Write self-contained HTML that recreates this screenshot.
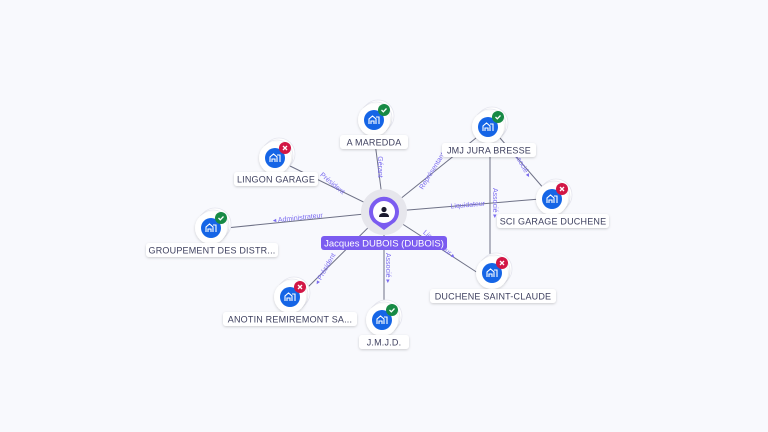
<!DOCTYPE html>
<html><head><meta charset="utf-8"><style>
html,body{margin:0;padding:0;background:#f8f9fd;}
svg{display:block;font-family:"Liberation Sans",sans-serif;}
.lbl{font-size:9px;fill:#3d3f5e;text-anchor:middle;letter-spacing:0.2px}
.el{font-size:7px;fill:#7b6cf0;text-anchor:middle}
.ln{stroke:#6e7186;stroke-width:1;fill:none}
</style></head><body>
<svg width="768" height="432" viewBox="0 0 768 432">
<defs>
<filter id="sh" x="-50%" y="-50%" width="200%" height="200%"><feDropShadow dx="0" dy="1" stdDeviation="1.2" flood-color="#000" flood-opacity="0.18"/></filter>
<g id="ico">
<circle cx="4" cy="-4" r="16" fill="#fff" stroke="#e4e5ee" stroke-width="0.8"/>
<circle cx="2" cy="-2" r="16" fill="#fff" stroke="#e4e5ee" stroke-width="0.8"/>
<circle r="16" fill="#fff" filter="url(#sh)"/>
<circle r="10" fill="#1565e6"/>
<path d="M-5 4 V-1 L-1.5 -4 L2 -1 V4 M2 -3 H5 V4 M-3 4 V1 H0 V4" stroke="#fff" stroke-width="1.1" fill="none"/>
</g>
<g id="ok"><circle cx="10" cy="-10" r="6" fill="#178a45"/><path d="M7.5 -10 L9.3 -8.2 L12.5 -11.5" stroke="#fff" stroke-width="1.3" fill="none"/></g>
<g id="ko"><circle cx="10" cy="-10" r="6" fill="#d21645"/><path d="M8 -12 L12 -8 M12 -12 L8 -8" stroke="#fff" stroke-width="1.3"/></g>
</defs>

<!-- edges -->
<line class="ln" x1="384" y1="212" x2="374" y2="135"/>
<line class="ln" x1="384" y1="212" x2="476" y2="138"/>
<line class="ln" x1="384" y1="212" x2="288" y2="165"/>
<line class="ln" x1="384" y1="212" x2="540" y2="199"/>
<line class="ln" x1="384" y1="212" x2="226" y2="228"/>
<line class="ln" x1="384" y1="212" x2="478" y2="273"/>
<line class="ln" x1="384" y1="212" x2="305" y2="290"/>
<line class="ln" x1="384" y1="212" x2="384" y2="306"/>
<line class="ln" x1="490" y1="155" x2="490" y2="262"/>
<line class="ln" x1="500" y1="138" x2="545" y2="190"/>

<!-- edge labels -->
<text class="el" transform="translate(378,167) rotate(90)">Gérant</text>
<text class="el" transform="translate(434,172) rotate(-58)">Représentant</text>
<text class="el" transform="translate(331,185) rotate(40)">Président</text>
<text class="el" transform="translate(468,207) rotate(-5)">Liquidateur</text>
<text class="el" transform="translate(298,220) rotate(-6)">◂ Administrateur</text>
<text class="el" transform="translate(438,246) rotate(40)">Liquidateur ▸</text>
<text class="el" transform="translate(327,270) rotate(-60)">◂ Président</text>
<text class="el" transform="translate(386,268) rotate(90)">Associé ▸</text>
<text class="el" transform="translate(493,203) rotate(90)">Associé ▸</text>
<text class="el" transform="translate(520,165) rotate(60)">Associé ▸</text>

<!-- center -->
<circle cx="384" cy="212" r="23" fill="#e6e6ec"/>
<path d="M384 230 L373 222 A15 15 0 1 1 395 222 Z" fill="#7b5cf0"/>
<circle cx="384" cy="212" r="11" fill="#fff"/>
<circle cx="384" cy="209.5" r="2.6" fill="#1b1b2e"/>
<path d="M379 217 Q379 213 384 213 Q389 213 389 217 Z" fill="#1b1b2e"/>
<rect x="321" y="236" width="126" height="14" rx="3" fill="#7b5cf0"/>
<text x="384" y="246.5" font-size="9.5" fill="#fff" text-anchor="middle">Jacques DUBOIS (DUBOIS)</text>

<!-- nodes -->
<g transform="translate(374,120)"><use href="#ico"/><use href="#ok"/></g>
<rect x="340" y="135" width="68" height="14" rx="3" fill="#fff" filter="url(#sh)"/><text class="lbl" x="374" y="145.5">A MAREDDA</text>

<g transform="translate(488,127)"><use href="#ico"/><use href="#ok"/></g>
<rect x="442" y="143" width="94" height="14" rx="3" fill="#fff" filter="url(#sh)"/><text class="lbl" x="489" y="153.5">JMJ JURA BRESSE</text>

<g transform="translate(275,158)"><use href="#ico"/><use href="#ko"/></g>
<rect x="234" y="172" width="84" height="14" rx="3" fill="#fff" filter="url(#sh)"/><text class="lbl" x="276" y="182.5">LINGON GARAGE</text>

<g transform="translate(552,199)"><use href="#ico"/><use href="#ko"/></g>
<rect x="497" y="214" width="112" height="14" rx="3" fill="#fff" filter="url(#sh)"/><text class="lbl" x="553" y="224.5">SCI GARAGE DUCHENE</text>

<g transform="translate(211,228)"><use href="#ico"/><use href="#ok"/></g>
<rect x="146" y="243" width="132" height="14" rx="3" fill="#fff" filter="url(#sh)"/><text class="lbl" x="212" y="253.5">GROUPEMENT DES DISTR...</text>

<g transform="translate(492,273)"><use href="#ico"/><use href="#ko"/></g>
<rect x="430" y="289" width="126" height="14" rx="3" fill="#fff" filter="url(#sh)"/><text class="lbl" x="493" y="299.5">DUCHENE SAINT-CLAUDE</text>

<g transform="translate(290,297)"><use href="#ico"/><use href="#ko"/></g>
<rect x="223" y="312" width="134" height="14" rx="3" fill="#fff" filter="url(#sh)"/><text class="lbl" x="290" y="322.5">ANOTIN REMIREMONT SA...</text>

<g transform="translate(382,320)"><use href="#ico"/><use href="#ok"/></g>
<rect x="359" y="335" width="50" height="14" rx="3" fill="#fff" filter="url(#sh)"/><text class="lbl" x="384" y="345.5">J.M.J.D.</text>
</svg>
</body></html>
